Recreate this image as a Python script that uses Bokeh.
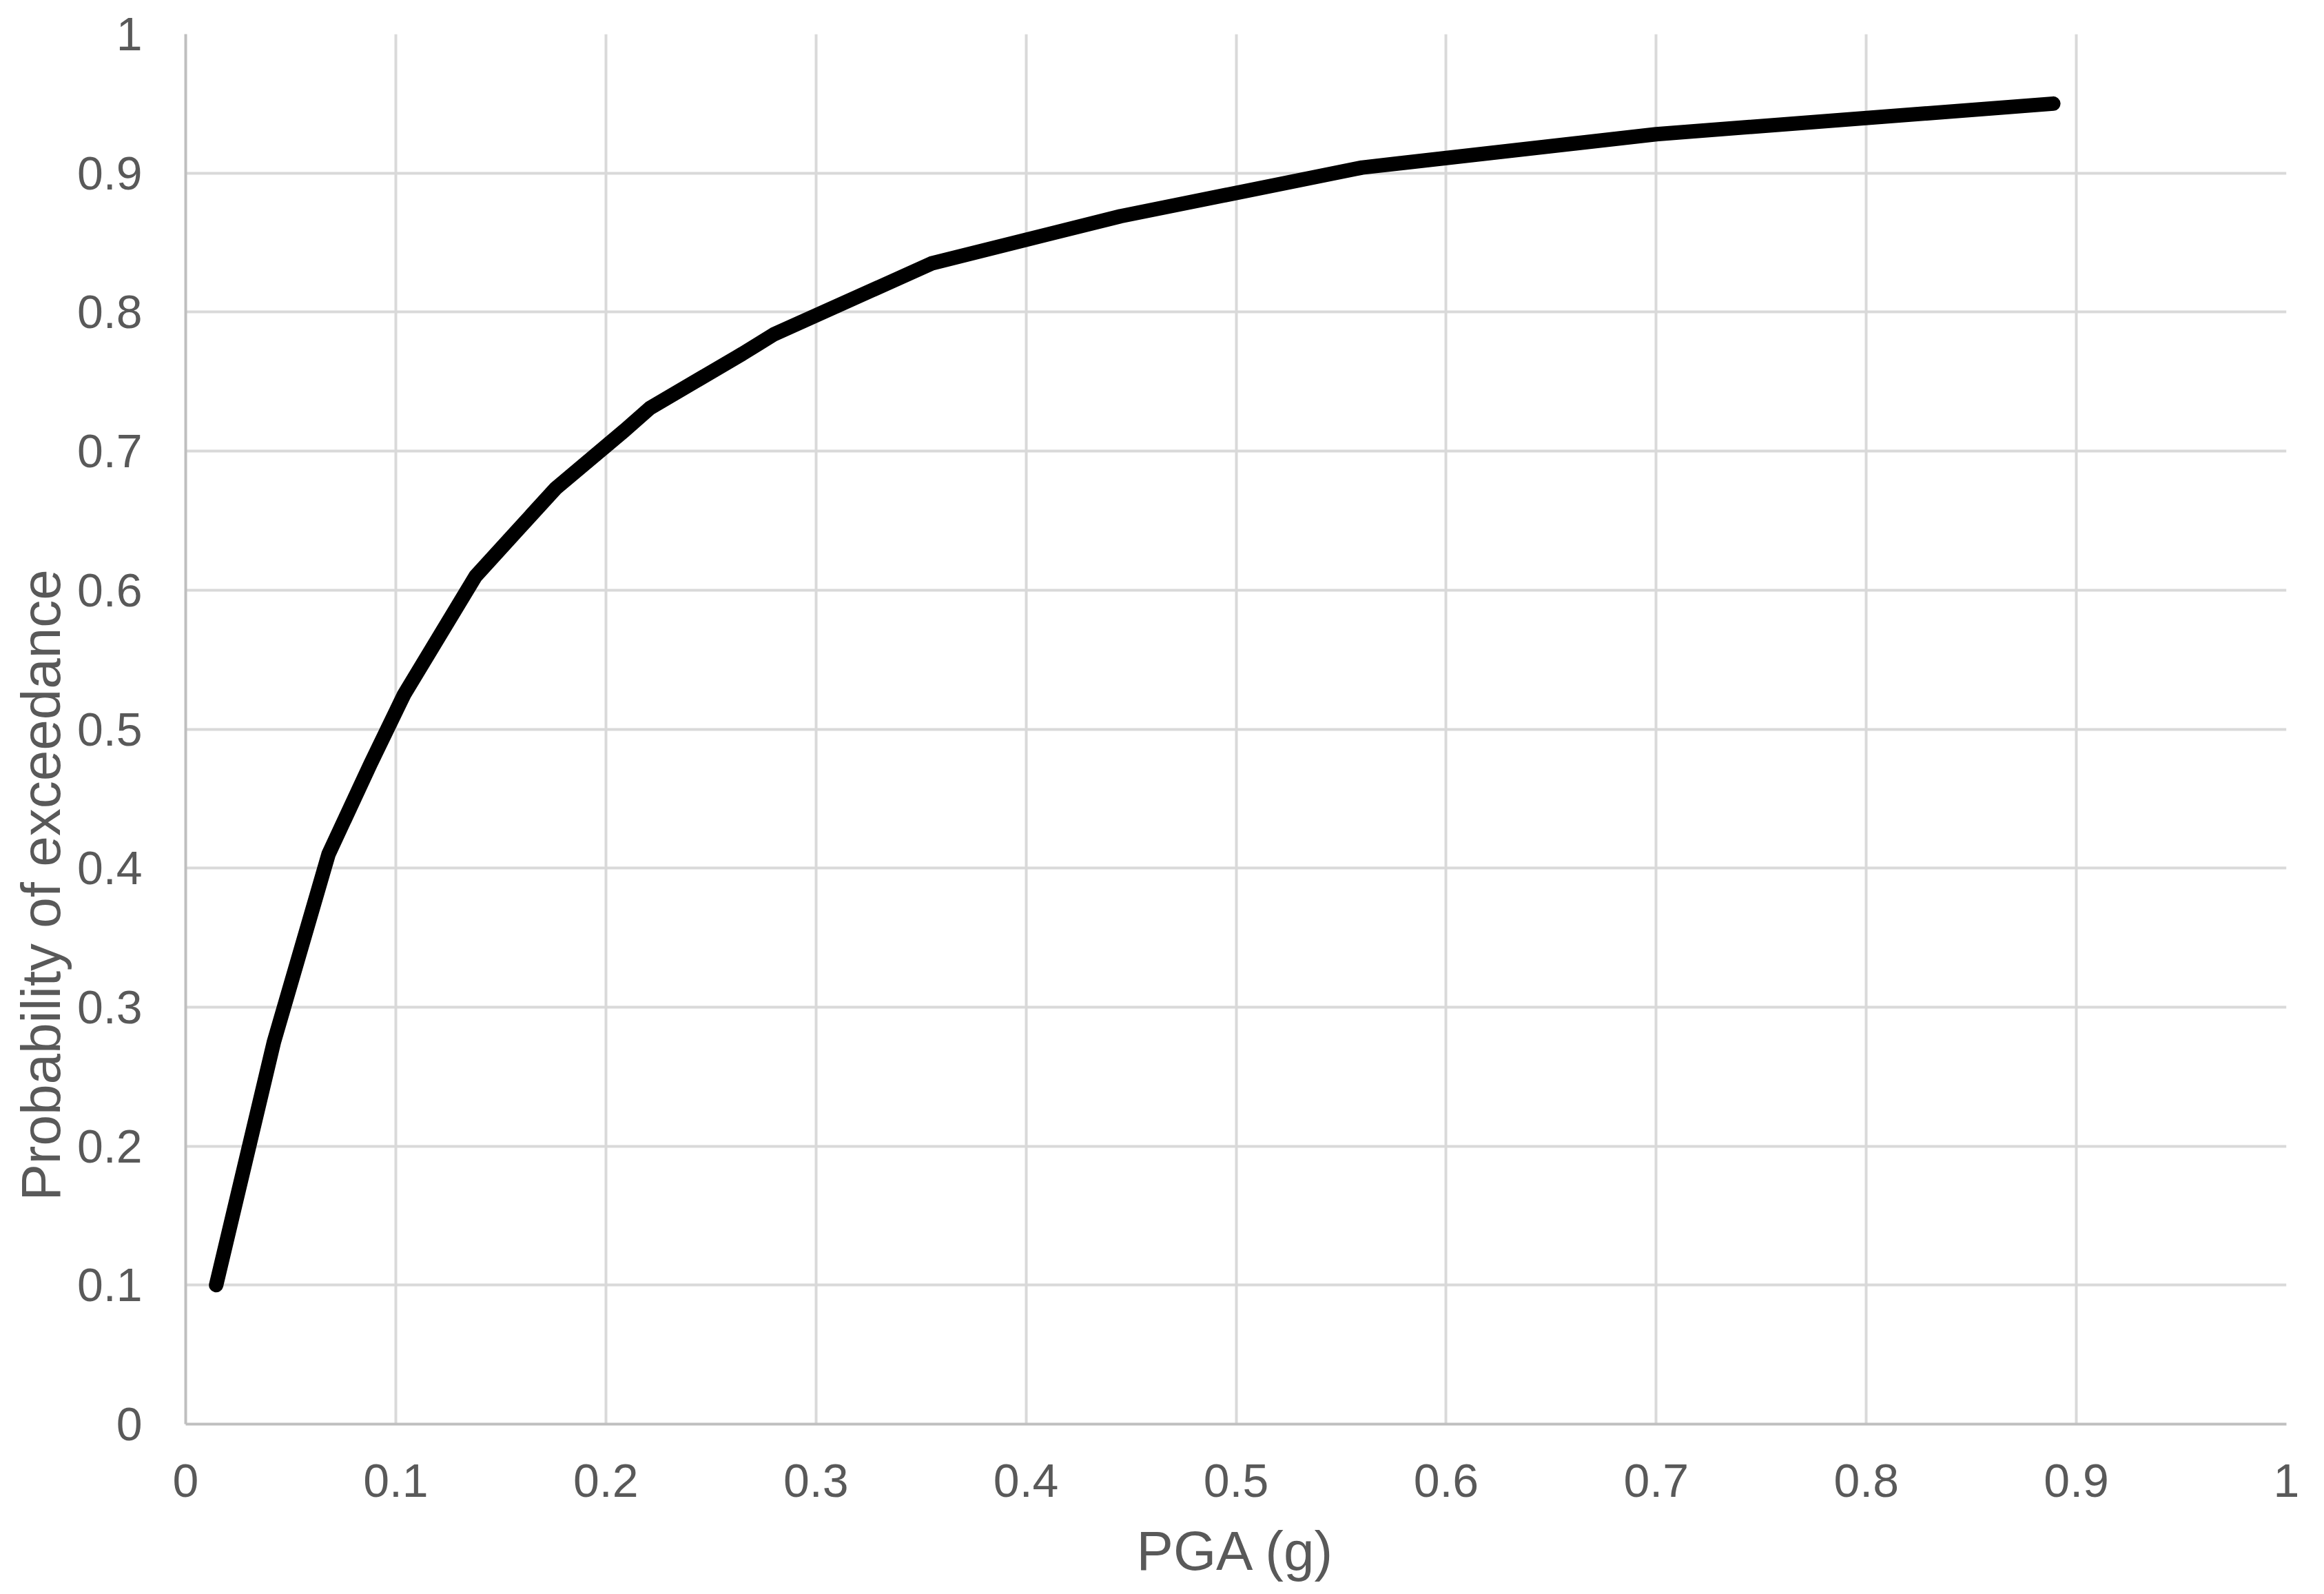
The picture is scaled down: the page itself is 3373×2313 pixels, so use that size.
from bokeh.plotting import figure
from bokeh.models import Range1d, FixedTicker, Title
from bokeh.embed import file_html
from bokeh.resources import INLINE

# Data
pga = [0.0145, 0.042, 0.068, 0.088, 0.104, 0.138, 0.176, 0.209, 0.221,
       0.265, 0.280, 0.355, 0.445, 0.560, 0.700, 0.889]
prob = [0.100, 0.275, 0.410, 0.475, 0.525, 0.610, 0.673, 0.715, 0.731,
        0.770, 0.784, 0.835, 0.869, 0.904, 0.928, 0.950]

tick_values = [0, 0.1, 0.2, 0.3, 0.4, 0.5, 0.6, 0.7, 0.8, 0.9, 1]
tick_labels = ["0", "0.1", "0.2", "0.3", "0.4", "0.5", "0.6", "0.7", "0.8", "0.9", "1"]

x_title = "PGA (g)"
y_title = "Probability of exceedance"

FONT = "Liberation Sans"
TEXT_COLOR = "#595959"

p = figure(width=3357, height=2297, output_backend="svg", toolbar_location=None,
           x_range=Range1d(0, 1), y_range=Range1d(0, 1),
           min_border_left=269, min_border_top=49, min_border_right=39, min_border_bottom=228)
p.outline_line_color = None
p.background_fill_color = "white"
p.border_fill_color = "white"

overrides = {v: l for v, l in zip(tick_values, tick_labels)}
for ax in (p.xaxis[0], p.yaxis[0]):
    ax.ticker = FixedTicker(ticks=tick_values)
    ax.major_label_overrides = overrides
    ax.axis_line_color = "#bfbfbf"
    ax.axis_line_width = 4
    ax.major_tick_line_color = None
    ax.minor_tick_line_color = None
    ax.major_label_text_font = FONT
    ax.major_label_text_font_size = "68px"
    ax.major_label_text_color = TEXT_COLOR
    ax.axis_label_text_font = FONT
    ax.axis_label_text_font_size = "80px"
    ax.axis_label_text_font_style = "normal"
    ax.axis_label_text_color = TEXT_COLOR

p.xaxis.axis_label = x_title
p.yaxis.major_label_standoff = 57
p.xaxis.major_label_standoff = 52
p.xaxis.axis_label_standoff = 31

# y-axis title sits below the vertical centre in the reference: a side title with an offset
p.add_layout(Title(text=y_title, align="left", offset=324, standoff=10,
                   text_font=FONT, text_font_size="80px", text_font_style="normal",
                   text_color=TEXT_COLOR), "left")

for g in (p.xgrid[0], p.ygrid[0]):
    g.grid_line_color = "#d9d9d9"
    g.grid_line_width = 4

p.line(pga, prob, line_color="black", line_width=21, line_cap="round", line_join="round")

open("out.html", "w").write(file_html(p, INLINE))
